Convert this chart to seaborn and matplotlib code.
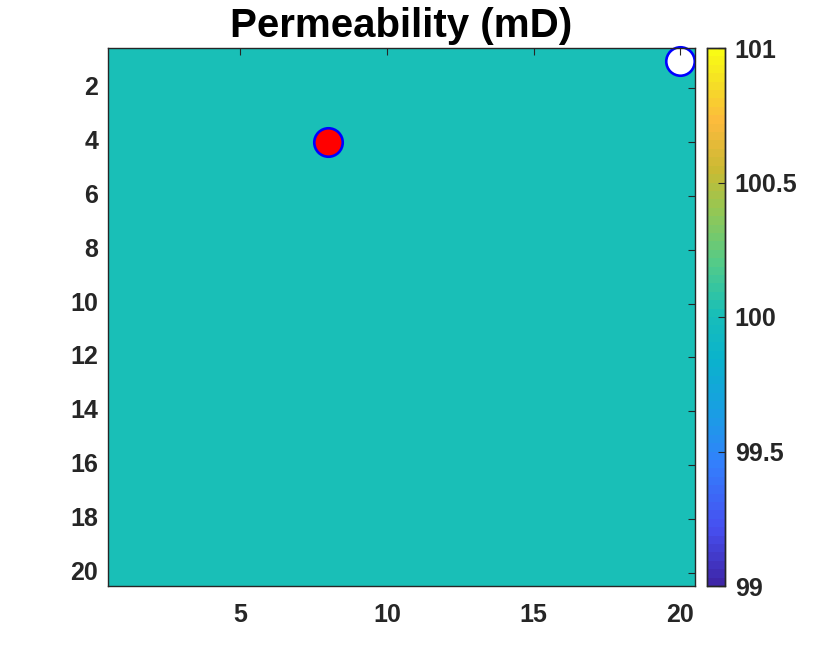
import numpy as np
import pandas as pd
import matplotlib
matplotlib.use("Agg")
import matplotlib.pyplot as plt
import seaborn as sns
from matplotlib.colors import LinearSegmentedColormap, ListedColormap

# ---- data ----
n_rows = 20
n_cols = 20
perm_value = 100.0
perm = np.full((n_rows, n_cols), perm_value)
well_x = [8, 20]
well_y = [4, 1]
well_face = ["red", "white"]
x_ticks = [5, 10, 15, 20]
y_ticks = [2, 4, 6, 8, 10, 12, 14, 16, 18, 20]
cbar_ticks = [99, 99.5, 100, 100.5, 101]
cbar_labels = ["99", "99.5", "100", "100.5", "101"]
vmin, vmax = 99, 101
title = "Permeability (mD)"

# parula-like colormap (64 levels, like MATLAB)
anchors = [
    (0.00, (0.2422, 0.1504, 0.6603)),
    (0.10, (0.2780, 0.3100, 0.9400)),
    (0.22, (0.2000, 0.5000, 0.9900)),
    (0.32, (0.1000, 0.6200, 0.8900)),
    (0.42, (0.0400, 0.7000, 0.8000)),
    (0.51, (0.0980, 0.7490, 0.7180)),
    (0.60, (0.3200, 0.7950, 0.5400)),
    (0.70, (0.5800, 0.7800, 0.3300)),
    (0.78, (0.7900, 0.7300, 0.2000)),
    (0.87, (0.9900, 0.7300, 0.2400)),
    (0.94, (0.9600, 0.8700, 0.1500)),
    (1.00, (0.9769, 0.9839, 0.0805)),
]
base = LinearSegmentedColormap.from_list("parula_like", anchors)
parula = ListedColormap(base(np.linspace(0, 1, 64)))

sns.set_style("white")
ink = "#262626"
plt.rcParams["font.family"] = ["Liberation Sans", "DejaVu Sans"]
plt.rcParams["font.weight"] = "bold"
plt.rcParams["text.color"] = ink
plt.rcParams["axes.edgecolor"] = ink
plt.rcParams["xtick.color"] = ink
plt.rcParams["ytick.color"] = ink
plt.rcParams["axes.axisbelow"] = False

fig = plt.figure(figsize=(8.34, 6.59), dpi=100)
ax = fig.add_axes([108 / 834, 1 - 586 / 659, 587 / 834, 538 / 659])
cax = fig.add_axes([707 / 834, 1 - 586 / 659, 18 / 834, 538 / 659])

df = pd.DataFrame(perm, index=range(1, n_rows + 1), columns=range(1, n_cols + 1))
sns.heatmap(df, ax=ax, cbar_ax=cax, cmap=parula, vmin=vmin, vmax=vmax,
            cbar_kws={"ticks": cbar_ticks})
ax.set_axisbelow(False)
cax.set_axisbelow(False)

# wells (heatmap cell k is centred at k-0.5)
for xw, yw, fc in zip(well_x, well_y, well_face):
    ax.plot(xw - 0.5, yw - 0.5, marker="o", markersize=20.5, markerfacecolor=fc,
            markeredgecolor="blue", markeredgewidth=1.9, clip_on=False, zorder=1.5)

ax.set_xlim(0, n_cols)
ax.set_ylim(n_rows, 0)
ax.set_xticks(np.array(x_ticks) - 0.5)
ax.set_xticklabels([str(t) for t in x_ticks], rotation=0)
ax.set_yticks(np.array(y_ticks) - 0.5)
ax.set_yticklabels([str(t) for t in y_ticks], rotation=0)
ax.set_xlabel("")
ax.set_ylabel("")
for s in ax.spines.values():
    s.set_visible(True)
    s.set_color(ink)
    s.set_linewidth(1.0)
    s.set_zorder(3)
ax.tick_params(axis="both", direction="in", length=5, width=0.8,
               top=True, right=True, labelsize=18)
ax.tick_params(axis="x", pad=12)
ax.tick_params(axis="y", pad=7)
for lbl in ax.get_xticklabels() + ax.get_yticklabels():
    lbl.set_fontweight("bold")

ax.set_title(title, fontsize=29, fontweight="bold", pad=8, color="black")

cax.set_yticks(cbar_ticks)
cax.set_yticklabels(cbar_labels)
cax.tick_params(axis="y", direction="in", length=5, width=0.8, labelsize=18, pad=7)
for lbl in cax.get_yticklabels():
    lbl.set_fontweight("bold")
for s in cax.spines.values():
    s.set_visible(True)
    s.set_color(ink)
    s.set_linewidth(1.0)

fig.savefig("out.png", dpi=100, facecolor="white")
